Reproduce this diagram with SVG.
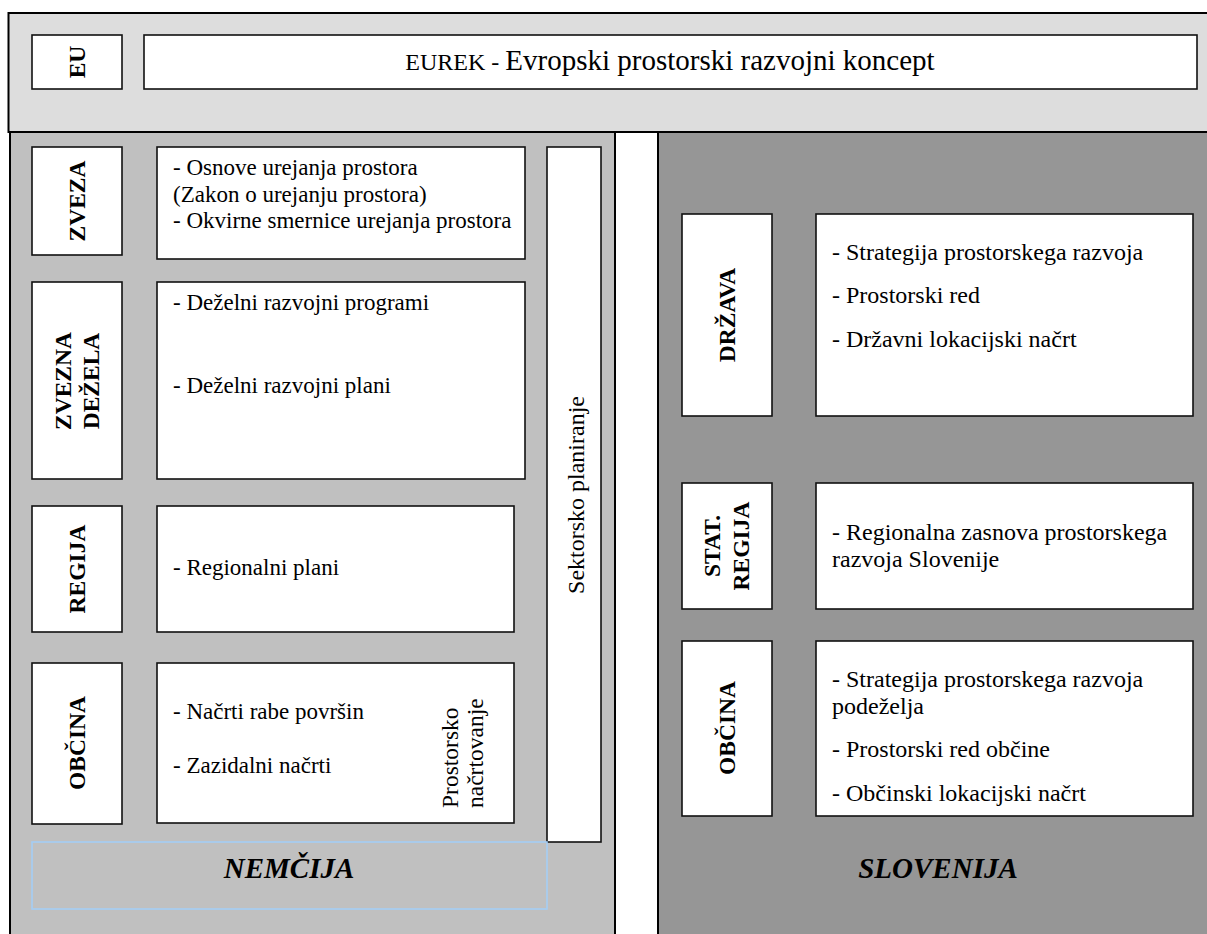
<svg xmlns="http://www.w3.org/2000/svg" width="1207" height="934" viewBox="0 0 1207 934">
  <style>
    .panel { stroke: #000; stroke-width: 2; }
    .box { fill: #fff; stroke: #111; stroke-width: 1.6; }
    .lbl { font-weight: bold; font-size: 23.5px; text-anchor: middle; }
    .txt { font-size: 23px; }
    .txtV { font-size: 23.5px; }
    .txtR { font-size: 24px; }
    .country { font-weight: bold; font-style: italic; font-size: 29px; text-anchor: middle; }
  </style>

  <!-- background panels -->
  <g id="panels">
    <rect x="0" y="0" width="1207" height="934" fill="#fff"/>
    <rect class="panel" x="8.5" y="13" width="1210" height="119" fill="#dddddd"/>
    <rect class="panel" x="10" y="132" width="605" height="810" fill="#c0c0c0"/>
    <rect class="panel" x="658" y="132" width="560" height="810" fill="#969696"/>
  </g>

  <g font-family="Liberation Serif" fill="#000">
    <!-- EU level -->
    <g id="eu">
      <rect class="box" x="32" y="35" width="90" height="54"/>
      <text class="lbl" transform="translate(85,62) rotate(-90)">EU</text>
    </g>
    <g id="eurek">
      <rect class="box" x="144" y="35" width="1053" height="54"/>
      <text x="670" y="70" text-anchor="middle"><tspan font-size="24">EUREK - </tspan><tspan font-size="29">Evropski prostorski razvojni koncept</tspan></text>
    </g>

    <!-- Germany -->
    <g id="de-zveza">
      <rect class="box" x="32" y="147" width="90" height="108"/>
      <text class="lbl" transform="translate(85,201) rotate(-90)">ZVEZA</text>
      <rect class="box" x="157" y="147" width="368" height="112"/>
      <text class="txt" x="173" y="175">- Osnove urejanja prostora</text>
      <text class="txt" x="173" y="202">(Zakon o urejanju prostora)</text>
      <text class="txt" x="173" y="228">- Okvirne smernice urejanja prostora</text>
    </g>
    <g id="de-dezela">
      <rect class="box" x="32" y="282" width="90" height="197"/>
      <text class="lbl" transform="translate(71,381) rotate(-90)">ZVEZNA</text>
      <text class="lbl" transform="translate(99,381) rotate(-90)">DEŽELA</text>
      <rect class="box" x="157" y="282" width="368" height="197"/>
      <text class="txt" x="173" y="310">- Deželni razvojni programi</text>
      <text class="txt" x="173" y="393">- Deželni razvojni plani</text>
    </g>
    <g id="de-regija">
      <rect class="box" x="32" y="506" width="90" height="126"/>
      <text class="lbl" transform="translate(85,569) rotate(-90)">REGIJA</text>
      <rect class="box" x="157" y="506" width="357" height="126"/>
      <text class="txt" x="173" y="575">- Regionalni plani</text>
    </g>
    <g id="de-obcina">
      <rect class="box" x="32" y="663" width="90" height="161"/>
      <text class="lbl" transform="translate(85,743) rotate(-90)">OBČINA</text>
      <rect class="box" x="157" y="663" width="357" height="160"/>
      <text class="txt" x="173" y="719">- Načrti rabe površin</text>
      <text class="txt" x="173" y="773">- Zazidalni načrti</text>
      <text class="txtV" transform="translate(458,808) rotate(-90)">Prostorsko</text>
      <text class="txtV" transform="translate(483,808) rotate(-90)">načrtovanje</text>
    </g>
    <g id="de-sektorsko">
      <rect class="box" x="547" y="147" width="54" height="695"/>
      <text class="txtR" text-anchor="middle" transform="translate(584,495) rotate(-90)">Sektorsko planiranje</text>
    </g>
    <g id="de-title">
      <rect x="32" y="842" width="515" height="67" fill="none" stroke="#a4cdf4" stroke-width="1.6"/>
      <text class="country" x="289" y="878">NEMČIJA</text>
    </g>

    <!-- Slovenia -->
    <g id="si-drzava">
      <rect class="box" x="682" y="214" width="90" height="202"/>
      <text class="lbl" transform="translate(735,315) rotate(-90)">DRŽAVA</text>
      <rect class="box" x="816" y="214" width="377" height="202"/>
      <text class="txtR" x="832" y="260">- Strategija prostorskega razvoja</text>
      <text class="txtR" x="832" y="303">- Prostorski red</text>
      <text class="txtR" x="832" y="347">- Državni lokacijski načrt</text>
    </g>
    <g id="si-regija">
      <rect class="box" x="682" y="483" width="90" height="126"/>
      <text class="lbl" transform="translate(720,546) rotate(-90)">STAT.</text>
      <text class="lbl" transform="translate(749,546) rotate(-90)">REGIJA</text>
      <rect class="box" x="816" y="483" width="377" height="126"/>
      <text class="txtR" x="832" y="540">- Regionalna zasnova prostorskega</text>
      <text class="txtR" x="832" y="567">razvoja Slovenije</text>
    </g>
    <g id="si-obcina">
      <rect class="box" x="682" y="641" width="90" height="175"/>
      <text class="lbl" transform="translate(735,728) rotate(-90)">OBČINA</text>
      <rect class="box" x="816" y="641" width="377" height="175"/>
      <text class="txtR" x="832" y="687">- Strategija prostorskega razvoja</text>
      <text class="txtR" x="832" y="714">podeželja</text>
      <text class="txtR" x="832" y="757">- Prostorski red občine</text>
      <text class="txtR" x="832" y="801">- Občinski lokacijski načrt</text>
    </g>
    <g id="si-title">
      <text class="country" x="938" y="878">SLOVENIJA</text>
    </g>
  </g>
</svg>
